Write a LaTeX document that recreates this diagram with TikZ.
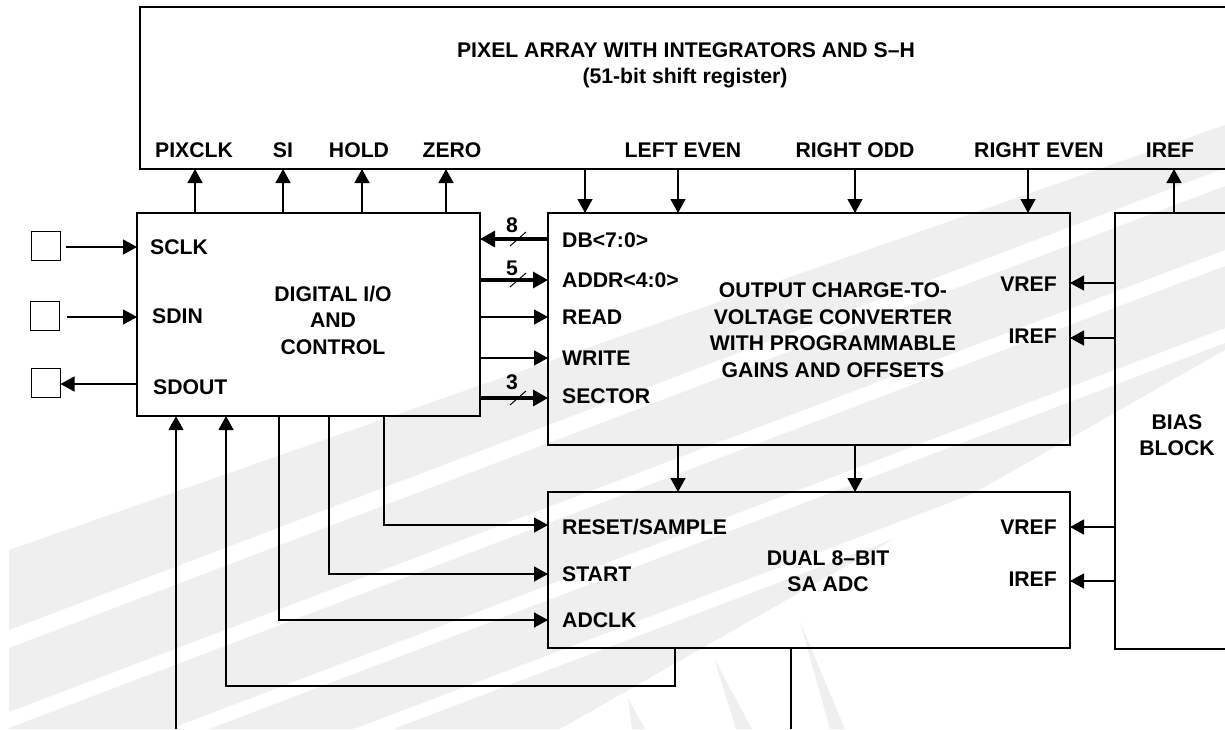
\documentclass[tikz,border=0pt]{standalone}
\usepackage{fontspec}
\setmainfont{Liberation Sans}
\usetikzlibrary{arrows.meta,calc}
\definecolor{wm}{HTML}{EFEFEF}
\begin{document}
\begin{tikzpicture}[x=1pt,y=-1pt,
  every node/.style={font=\fontsize{21.2}{26.5}\selectfont\bfseries, inner sep=0pt},
  blk/.style={draw, line width=2.6pt, anchor=north west, rectangle, outer sep=0pt, inner sep=0pt},
  pad/.style={draw, line width=1.3pt, rectangle, minimum width=29pt, minimum height=29pt, outer sep=0pt},
  conn/.style={line width=1.3pt, -{Triangle[width=15pt,length=14pt]}},
  plain/.style={line width=1.3pt},
  bus/.style={line width=3.2pt, -{Triangle[width=16pt,length=15pt]}},
  slash/.style={line width=1pt},
  txt/.style={align=center},
]
\clip (0,0) rectangle (1225,729);
% watermark stripes
\begin{scope}
  \clip (9,729) -- (9,550) -- (1225,125) -- (1225,350) -- (560,729) -- cycle;
  \foreach \a/\b in {550/630,648/712,728/790,805/860,875/940} {
    \fill[wm] (9,\a) -- (1225,{\a-462}) -- (1225,{\b-462}) -- (9,\b) -- cycle;
  }
\end{scope}
\fill[wm] (628,698) -- (645,729) -- (632,729) -- cycle;
\fill[wm] (714,658) -- (752,729) -- (736,729) -- cycle;
\fill[wm] (800,622) -- (845,729) -- (830,729) -- cycle;

% blocks
\node[blk, minimum width=1120pt, minimum height=162pt] (pix) at (140,7) {};
\node[blk, minimum width=343pt, minimum height=203pt] (dig) at (137,213) {};
\node[blk, minimum width=522pt, minimum height=232pt] (conv) at (548,213) {};
\node[blk, minimum width=522pt, minimum height=156pt] (adc) at (548,492) {};
\node[blk, minimum width=150pt, minimum height=436pt] (bias) at (1115,213) {};

% pads
\node[pad] (sq1) at (46,246) {};
\node[pad] (sq2) at (45,316) {};
\node[pad] (sq3) at (46,383) {};

% texts in pixel array
\node (tPix1) at (686,50) {PIXEL ARRAY WITH INTEGRATORS AND S\textendash H};
\node (tPix2) at (685,78) {(51-bit shift register)};
\node (lPixclk) at (194,150) {PIXCLK};
\node (lSi) at (283,150) {SI};
\node (lHold) at (359,150) {HOLD};
\node (lZero) at (452,150) {ZERO};
\node (lLeftEven) at (683,150) {LEFT EVEN};
\node (lRightOdd) at (855,150) {RIGHT ODD};
\node (lRightEven) at (1039,150) {RIGHT EVEN};
\node (lIrefTop) at (1170,150) {IREF};

% digital block texts
\node[anchor=west] (lSclk) at (150,247) {SCLK};
\node[anchor=west] (lSdin) at (152,316) {SDIN};
\node[anchor=west] (lSdout) at (153,387) {SDOUT};
\node[txt] (tDig) at (333,320) {DIGITAL I/O\\AND\\CONTROL};

% converter texts
\node[anchor=west] (lDb) at (562,240) {DB<7:0>};
\node[anchor=west] (lAddr) at (562,280) {ADDR<4:0>};
\node[anchor=west] (lRead) at (562,317) {READ};
\node[anchor=west] (lWrite) at (562,358) {WRITE};
\node[anchor=west] (lSector) at (562,396) {SECTOR};
\node[txt] (tConv) at (833,330) {OUTPUT CHARGE-TO-\\VOLTAGE CONVERTER\\WITH PROGRAMMABLE\\GAINS AND OFFSETS};
\node[anchor=east] (lVrefC) at (1057,284) {VREF};
\node[anchor=east] (lIrefC) at (1057,336) {IREF};

% adc texts
\node[anchor=west] (lRs) at (562,527) {RESET/SAMPLE};
\node[anchor=west] (lStart) at (562,574) {START};
\node[anchor=west] (lAdclk) at (562,620) {ADCLK};
\node[txt] (tAdc) at (828,571) {DUAL 8\textendash BIT\\SA ADC};
\node[anchor=east] (lVrefA) at (1057,527) {VREF};
\node[anchor=east] (lIrefA) at (1057,579) {IREF};

% bias text
\node[txt] (tBias) at (1177,435) {BIAS\\BLOCK};

% bus widths
\node (n8) at (512,225) {8};
\node (n5) at (512,268) {5};
\node (n3) at (512,382) {3};

% ---- connectors ----
\coordinate (y1) at (0,247);
\coordinate (y2) at (0,317);
\coordinate (y3) at (0,384);
\draw[conn] ([xshift=5pt]sq1.east |- y1) -- (dig.west |- y1);
\draw[conn] ([xshift=7pt]sq2.east |- y2) -- (dig.west |- y2);
\draw[conn] (dig.west |- y3) -- (sq3.east |- y3);

\foreach \n/\x in {a/195,b/283,c/362,d/446} {
  \coordinate (u\n) at (\x,0);
  \draw[conn] (dig.north -| u\n) -- (pix.south -| u\n);
}
\foreach \n/\x in {a/585,b/678,c/855,d/1028} {
  \coordinate (v\n) at (\x,0);
  \draw[conn] (pix.south -| v\n) -- (conv.north -| v\n);
}
\coordinate (ib) at (1174,0);
\draw[conn] (bias.north -| ib) -- (pix.south -| ib);

% buses and control lines
\coordinate (yDb) at (0,239);
\coordinate (yAddr) at (0,280);
\coordinate (yRead) at (0,317);
\coordinate (yWrite) at (0,358);
\coordinate (ySector) at (0,398);
\draw[bus] (conv.west |- yDb) -- (dig.east |- yDb);
\draw[bus] (dig.east |- yAddr) -- (conv.west |- yAddr);
\draw[conn] (dig.east |- yRead) -- (conv.west |- yRead);
\draw[conn] (dig.east |- yWrite) -- (conv.west |- yWrite);
\draw[bus] (dig.east |- ySector) -- (conv.west |- ySector);
\foreach \y in {239,280,398} {
  \coordinate (s) at (518,\y);
  \draw[slash] ([shift={(-8,7)}]s) -- ([shift={(8,-7)}]s);
}

% bias references
\coordinate (yV1) at (0,283);
\coordinate (yI1) at (0,338);
\coordinate (yV2) at (0,527);
\coordinate (yI2) at (0,581);
\draw[conn] (bias.west |- yV1) -- (conv.east |- yV1);
\draw[conn] (bias.west |- yI1) -- (conv.east |- yI1);
\draw[conn] (bias.west |- yV2) -- (adc.east |- yV2);
\draw[conn] (bias.west |- yI2) -- (adc.east |- yI2);

% converter to adc
\coordinate (w1) at (678,0);
\coordinate (w2) at (855,0);
\draw[conn] (conv.south -| w1) -- (adc.north -| w1);
\draw[conn] (conv.south -| w2) -- (adc.north -| w2);

% control to adc
\coordinate (pRs) at (384,525);
\coordinate (pSt) at (329,574);
\coordinate (pCk) at (279,620);
\draw[conn] (dig.south -| pRs) |- (adc.west |- pRs);
\draw[conn] (dig.south -| pSt) |- (adc.west |- pSt);
\draw[conn] (dig.south -| pCk) |- (adc.west |- pCk);

% feedback from adc
\coordinate (fb) at (675,686);
\coordinate (fbx) at (226,0);
\draw[conn] (adc.south -| fb) -- (fb) -| (dig.south -| fbx);

% lines leaving the picture
\coordinate (bot1) at (176,729);
\coordinate (bot2) at (791,729);
\draw[conn] (bot1) -- (dig.south -| bot1);
\draw[plain] (adc.south -| bot2) -- (bot2);
\end{tikzpicture}
\end{document}
